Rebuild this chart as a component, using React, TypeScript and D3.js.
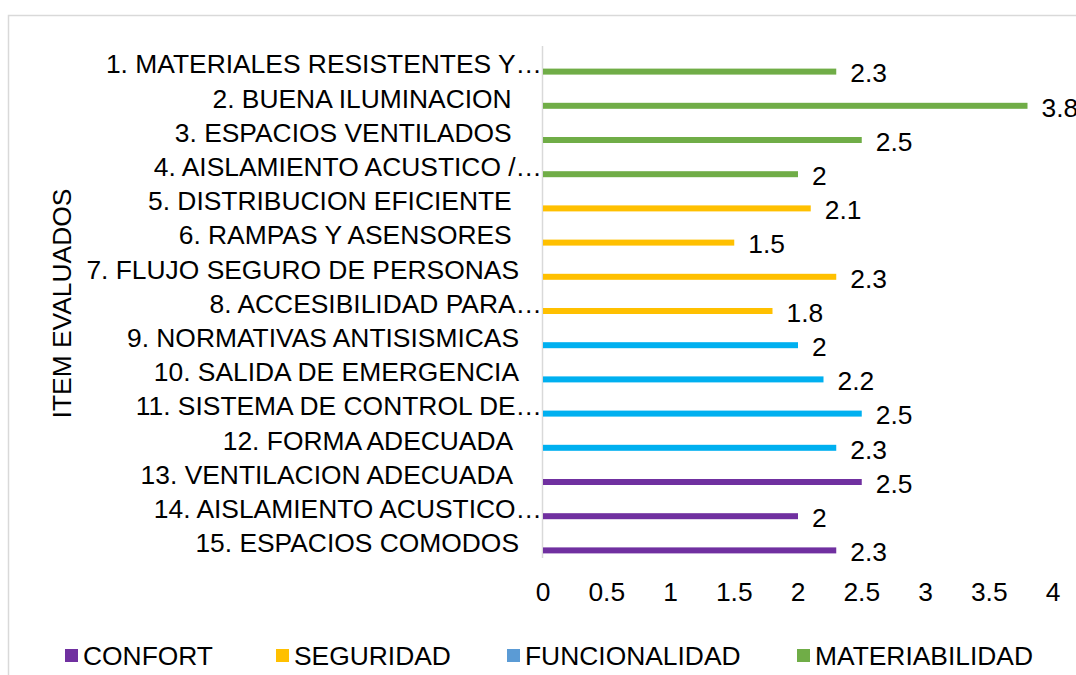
import React from "react";
import * as d3 from "d3";

const categories = [
  "1. MATERIALES RESISTENTES Y…",
  "2. BUENA ILUMINACION ",
  "3. ESPACIOS VENTILADOS ",
  "4. AISLAMIENTO ACUSTICO /…",
  "5. DISTRIBUCION EFICIENTE ",
  "6. RAMPAS Y ASENSORES ",
  "7. FLUJO SEGURO DE PERSONAS",
  "8. ACCESIBILIDAD PARA…",
  "9. NORMATIVAS ANTISISMICAS",
  "10. SALIDA DE EMERGENCIA",
  "11. SISTEMA DE CONTROL DE…",
  "12. FORMA ADECUADA ",
  "13. VENTILACION ADECUADA ",
  "14. AISLAMIENTO ACUSTICO…",
  "15. ESPACIOS COMODOS",
];
const values = [2.3, 3.8, 2.5, 2, 2.1, 1.5, 2.3, 1.8, 2, 2.2, 2.5, 2.3, 2.5, 2, 2.3];
const groups = [
  "MATERIABILIDAD", "MATERIABILIDAD", "MATERIABILIDAD", "MATERIABILIDAD",
  "SEGURIDAD", "SEGURIDAD", "SEGURIDAD", "SEGURIDAD",
  "FUNCIONALIDAD", "FUNCIONALIDAD", "FUNCIONALIDAD", "FUNCIONALIDAD",
  "CONFORT", "CONFORT", "CONFORT",
];
const legendItems = ["CONFORT", "SEGURIDAD", "FUNCIONALIDAD", "MATERIABILIDAD"];
const barColors: Record<string, string> = {
  CONFORT: "#7030A0",
  SEGURIDAD: "#FFC000",
  FUNCIONALIDAD: "#00B0F0",
  MATERIABILIDAD: "#70AD47",
};
const legendColors: Record<string, string> = {
  CONFORT: "#7030A0",
  SEGURIDAD: "#FFC000",
  FUNCIONALIDAD: "#5B9BD5",
  MATERIABILIDAD: "#70AD47",
};
const xTicks = [0, 0.5, 1, 1.5, 2, 2.5, 3, 3.5, 4];
const yTitle = "ITEM EVALUADOS";

const W = 1076;
const H = 675;
const FONT = "'Liberation Sans', Arial, sans-serif";
const FS = 26.4;

export default function App() {
  const x = d3.scaleLinear().domain([0, 4]).range([543, 1053]);
  const y = d3.scaleBand<string>().domain(categories).range([47, 560]);
  const bw = y.bandwidth();
  const legendX = [65, 276, 507, 797];

  return (
    <svg
      width={W}
      height={H}
      style={{ position: "absolute", left: 0, top: 0, background: "#fff" }}
      fontFamily={FONT}
    >
      <rect x={8.5} y={15.5} width={1200} height={800} fill="#fff" stroke="#D9D9D9" strokeWidth={1.5} />
      <line x1={542.5} x2={542.5} y1={46} y2={558} stroke="#D9D9D9" strokeWidth={1.5} />
      {categories.map((c, i) => {
        const cy = (y(c) as number) + bw / 2;
        const truncated = c.endsWith("…");
        return (
          <g key={c}>
            <text
              x={truncated ? 542 : 519}
              y={cy}
              dy="0.35em"
              textAnchor="end"
              fontSize={FS}
              fill="#000"
              style={{ whiteSpace: "pre" }}
            >
              {c}
            </text>
            <rect
              x={x(0)}
              y={cy + 7.5 - 3}
              width={x(values[i]) - x(0)}
              height={6}
              fill={barColors[groups[i]]}
            />
            <text
              x={x(values[i]) + 14}
              y={cy + 9}
              dy="0.35em"
              fontSize={FS}
              fill="#000"
            >
              {String(values[i])}
            </text>
          </g>
        );
      })}
      {xTicks.map((t) => (
        <text key={t} x={x(t)} y={592} dy="0.35em" textAnchor="middle" fontSize={FS} fill="#000">
          {String(t)}
        </text>
      ))}
      <text
        transform={`translate(62,${(47 + 560) / 2}) rotate(-90)`}
        textAnchor="middle"
        dy="0.35em"
        fontSize={FS}
        fill="#000"
      >
        {yTitle}
      </text>
      {legendItems.map((k, i) => (
        <g key={k}>
          <rect x={legendX[i]} y={649} width={13} height={13} fill={legendColors[k]} />
          <text x={legendX[i] + 18} y={656} dy="0.35em" fontSize={FS} fill="#000">
            {k}
          </text>
        </g>
      ))}
    </svg>
  );
}
